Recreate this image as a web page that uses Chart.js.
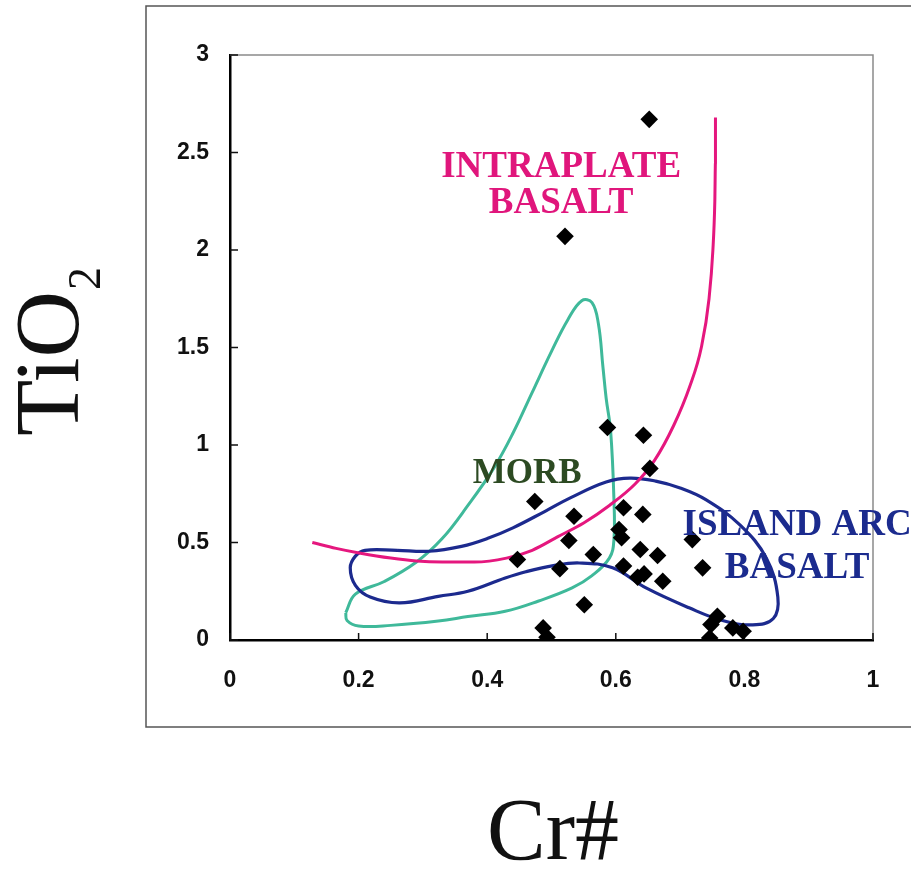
<!DOCTYPE html>
<html>
<head>
<meta charset="utf-8">
<script src="https://cdn.jsdelivr.net/npm/chart.js@4/dist/chart.umd.min.js"></script>
<style>
  html, body { margin: 0; padding: 0; background: #ffffff; }
  #wrap { width: 911px; height: 875px; }
</style>
</head>
<body>
<div id="wrap"><canvas id="c" width="911" height="875"></canvas></div>
<script>
// ---------- data ----------
const xTickLabels = ['0', '0.2', '0.4', '0.6', '0.8', '1'];
const yTickLabels = ['0', '0.5', '1', '1.5', '2', '2.5', '3'];

const xTitle = 'Cr#';
const yTitleMain = 'TiO';
const yTitleSub = '2';

const sampleCr = [0.652, 0.521, 0.587, 0.643, 0.653, 0.474, 0.535, 0.612, 0.642, 0.527,
                  0.605, 0.609, 0.447, 0.565, 0.638, 0.665, 0.513, 0.612, 0.634, 0.644,
                  0.673, 0.719, 0.735, 0.551, 0.487, 0.493, 0.746, 0.748, 0.758, 0.782, 0.798];
const sampleTi = [2.67, 2.07, 1.09, 1.05, 0.88, 0.71, 0.635, 0.678, 0.644, 0.51,
                  0.567, 0.524, 0.413, 0.438, 0.464, 0.433, 0.366, 0.379, 0.322, 0.339,
                  0.301, 0.515, 0.37, 0.181, 0.062, 0.014, 0.01, 0.079, 0.122, 0.062, 0.045];

// Intraplate basalt boundary (open curve)
const intraCr = [0.128, 0.165, 0.203, 0.25, 0.29, 0.33, 0.38, 0.43, 0.47, 0.51, 0.55,
                 0.59, 0.63, 0.66, 0.69, 0.715, 0.733, 0.745, 0.751, 0.754, 0.755, 0.755];
const intraTi = [0.50, 0.47, 0.445, 0.42, 0.405, 0.40, 0.40, 0.42, 0.46, 0.53, 0.60,
                 0.69, 0.80, 0.92, 1.10, 1.30, 1.50, 1.75, 2.0, 2.25, 2.45, 2.68];

// MORB field (closed loop)
const morbCr = [0.180, 0.195, 0.24, 0.29, 0.33, 0.37, 0.41, 0.44, 0.47, 0.50, 0.525, 0.547,
                0.563, 0.573, 0.580, 0.585, 0.592, 0.597, 0.597, 0.59, 0.563, 0.532, 0.48,
                0.428, 0.37, 0.324, 0.25, 0.20, 0.182, 0.180];
const morbTi = [0.14, 0.235, 0.30, 0.40, 0.52, 0.69, 0.88, 1.06, 1.27, 1.48, 1.64, 1.74,
                1.73, 1.62, 1.40, 1.24, 1.07, 0.73, 0.51, 0.42, 0.33, 0.267, 0.20,
                0.147, 0.12, 0.097, 0.075, 0.072, 0.10, 0.14];

// Island arc basalt field (closed loop)
const iabCr = [0.26, 0.31, 0.36, 0.40, 0.44, 0.49, 0.53, 0.585, 0.622, 0.662, 0.70, 0.74,
               0.793, 0.834, 0.852, 0.845, 0.813, 0.766, 0.714, 0.647, 0.595, 0.543, 0.501,
               0.46, 0.428, 0.37, 0.324, 0.264, 0.218, 0.195, 0.187, 0.195, 0.21, 0.26];
const iabTi = [0.46, 0.455, 0.48, 0.52, 0.575, 0.66, 0.73, 0.81, 0.83, 0.815, 0.78, 0.72,
               0.59, 0.42, 0.22, 0.11, 0.078, 0.10, 0.165, 0.267, 0.37, 0.395, 0.38,
               0.35, 0.318, 0.25, 0.224, 0.19, 0.22, 0.28, 0.37, 0.43, 0.46, 0.46];

const fieldLabels = [
  { lines: ['INTRAPLATE', 'BASALT'], x: 0.515, y: [2.374, 2.19], color: '#e0167c', size: 37 },
  { lines: ['MORB'], x: 0.462, y: [0.805], color: '#2c4a22', size: 35 },
  { lines: ['ISLAND ARC', 'BASALT'], x: 0.882, y: [0.538, 0.318], color: '#1b2b8e', size: 37 }
];

const pts = (xs, ys) => xs.map((v, i) => ({ x: v, y: ys[i] }));

// ---------- decoration plugin ----------
const decor = {
  id: 'decor',
  beforeDatasetsDraw(chart) {
    const ctx = chart.ctx;
    const a = chart.chartArea;
    const xs = chart.scales.x, ys = chart.scales.y;
    ctx.save();
    // outer frame (right side runs off the canvas)
    ctx.strokeStyle = '#555';
    ctx.lineWidth = 1.5;
    ctx.beginPath();
    ctx.moveTo(960, 6);
    ctx.lineTo(146, 6);
    ctx.lineTo(146, 727);
    ctx.lineTo(960, 727);
    ctx.stroke();
    // top and right plot borders
    ctx.strokeStyle = '#8a8a8a';
    ctx.lineWidth = 1.5;
    ctx.beginPath();
    ctx.moveTo(a.left, a.top);
    ctx.lineTo(a.right, a.top);
    ctx.lineTo(a.right, a.bottom);
    ctx.stroke();
    // inward ticks
    ctx.strokeStyle = '#111';
    ctx.lineWidth = 1.5;
    ctx.beginPath();
    xs.ticks.forEach(t => {
      const px = xs.getPixelForValue(t.value);
      ctx.moveTo(px, a.bottom);
      ctx.lineTo(px, a.bottom - 7);
    });
    ys.ticks.forEach(t => {
      const py = ys.getPixelForValue(t.value);
      ctx.moveTo(a.left, py);
      ctx.lineTo(a.left + 8, py);
    });
    ctx.stroke();
    ctx.restore();
  },
  afterDraw(chart) {
    const ctx = chart.ctx;
    const xs = chart.scales.x, ys = chart.scales.y;
    ctx.save();
    // field labels
    ctx.textAlign = 'center';
    ctx.textBaseline = 'alphabetic';
    fieldLabels.forEach(l => {
      ctx.font = 'bold ' + l.size + 'px "Liberation Serif", "Times New Roman", serif';
      ctx.fillStyle = l.color;
      l.lines.forEach((s, i) => {
        ctx.fillText(s, xs.getPixelForValue(l.x), ys.getPixelForValue(l.y[i]));
      });
    });
    // x title
    ctx.fillStyle = '#111';
    ctx.textAlign = 'left';
    ctx.font = '88px "Liberation Serif", "Times New Roman", serif';
    ctx.fillText(xTitle, 487, 859);
    // y title (rotated, with subscript)
    ctx.translate(78, 436);
    ctx.rotate(-Math.PI / 2);
    ctx.font = '92px "Liberation Serif", "Times New Roman", serif';
    ctx.fillText(yTitleMain, 0, 0);
    const w = ctx.measureText(yTitleMain).width;
    ctx.font = '46px "Liberation Serif", "Times New Roman", serif';
    ctx.fillText(yTitleSub, w + 1, 22);
    ctx.restore();
  }
};

const tickFont = { family: '"Liberation Sans", Arial, sans-serif', size: 23, weight: 'bold' };

new Chart(document.getElementById('c'), {
  type: 'scatter',
  data: {
    datasets: [
      {
        label: 'Samples',
        data: pts(sampleCr, sampleTi),
        pointStyle: 'rectRot',
        pointRadius: 8.8,
        pointHoverRadius: 8.8,
        backgroundColor: '#000',
        borderColor: '#000',
        borderWidth: 0,
        order: 0
      },
      {
        label: 'Intraplate basalt',
        data: pts(intraCr, intraTi),
        showLine: true,
        pointRadius: 0,
        borderColor: '#e5177e',
        borderWidth: 3,
        cubicInterpolationMode: 'monotone',
        fill: false,
        order: 1
      },
      {
        label: 'MORB',
        data: pts(morbCr, morbTi),
        showLine: true,
        pointRadius: 0,
        borderColor: '#3fb99a',
        borderWidth: 3,
        tension: 0.4,
        fill: false,
        order: 3
      },
      {
        label: 'Island arc basalt',
        data: pts(iabCr, iabTi),
        showLine: true,
        pointRadius: 0,
        borderColor: '#1c2a8e',
        borderWidth: 3.2,
        tension: 0.4,
        fill: false,
        order: 2
      }
    ]
  },
  options: {
    responsive: false,
    animation: false,
    events: [],
    layout: { padding: { left: 0, right: 38, top: 55, bottom: 0 } },
    plugins: {
      legend: { display: false },
      tooltip: { enabled: false },
      title: { display: false }
    },
    scales: {
      x: {
        type: 'linear',
        min: 0,
        max: 1,
        grid: { display: false, drawTicks: false },
        border: { display: true, color: '#000', width: 2.5 },
        ticks: {
          stepSize: 0.2,
          padding: 27,
          color: '#111',
          font: tickFont,
          callback: (v, i) => xTickLabels[i]
        },
        afterFit: s => { s.height = 235; }
      },
      y: {
        type: 'linear',
        min: 0,
        max: 3,
        grid: { display: false, drawTicks: false },
        border: { display: true, color: '#000', width: 2.5 },
        ticks: {
          stepSize: 0.5,
          padding: 21,
          color: '#111',
          font: tickFont,
          callback: (v, i) => yTickLabels[i]
        },
        afterFit: s => { s.width = 230; }
      }
    }
  },
  plugins: [decor]
});
</script>
</body>
</html>
